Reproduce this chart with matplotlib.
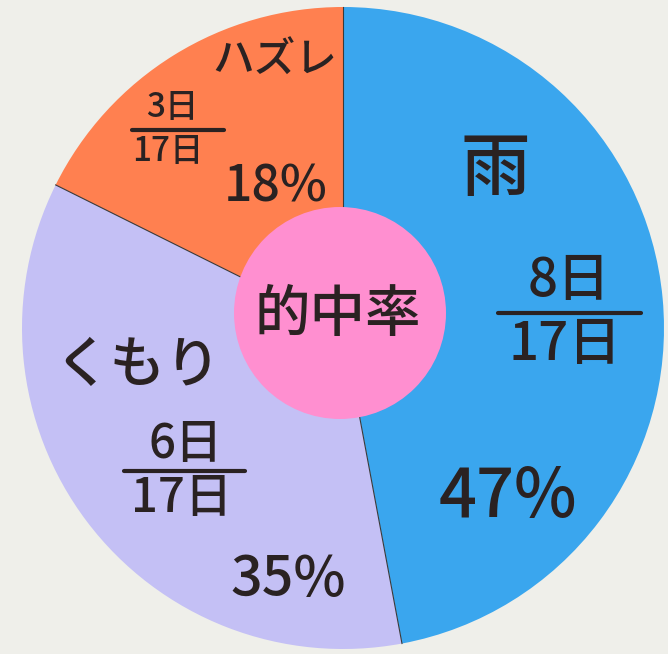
import numpy as np
import matplotlib.pyplot as plt
from matplotlib.patches import Circle

plt.rcParams['font.family'] = ['Noto Sans CJK JP', 'DejaVu Sans']

# data
labels = ['雨', 'くもり', 'ハズレ']
days = [8, 6, 3]
total_days = 17
colors = ['#3aa6ee', '#c4c0f5', '#ff8050']
center_label = '的中率'

W, H = 668, 654
fig = plt.figure(figsize=(W / 100, H / 100), dpi=100)
fig.patch.set_facecolor('#efefea')
ax = fig.add_axes([0, 0, 1, 1])
ax.set_facecolor('#efefea')

cx, cy, r = 343, H - 328, 321
wedges, _ = ax.pie(days, colors=colors, startangle=90, counterclock=False,
                   center=(cx, cy), radius=r,
                   wedgeprops=dict(edgecolor='none', linewidth=0))

# thin dark seams between the paper pieces
for w in wedges:
    a = np.deg2rad(w.theta1)
    ax.plot([cx, cx + r * np.cos(a)], [cy, cy + r * np.sin(a)],
            color='#3a3a3a', lw=0.8, zorder=2)

ax.add_patch(Circle((340, H - 313), 106, facecolor='#ff8fd0', edgecolor='none', zorder=3))

ax.set_xlim(0, W)
ax.set_ylim(0, H)
ax.set_aspect('equal')
ax.axis('off')

ink = '#2a2222'


def txt(x, y, s, size):
    ax.text(x, H - y, s, fontsize=size, color=ink, ha='center', va='center',
            fontweight='medium', zorder=5)


def frac(x, y, num, size, line_x0, line_x1, gap):
    # numerator over denominator with a bar between
    txt(x + 4, y - gap, f'{num}日', size)
    txt(x, y + gap, f'{total_days}日', size)
    ax.plot([line_x0, line_x1], [H - y, H - y], color=ink, lw=3, solid_capstyle='round', zorder=5)


pct = [round(100 * d / total_days) for d in days]

# 雨
txt(495, 170, labels[0], 50)
frac(565, 313, days[0], 38, 498, 641, 32)
txt(508, 498, f'{pct[0]}%', 48)

# くもり
txt(138, 366, labels[1], 40)
frac(182, 471, days[1], 34, 124, 245, 27)
txt(288, 580, f'{pct[1]}%', 40)

# ハズレ
txt(275, 60, labels[2], 30)
frac(168, 130, days[2], 24, 132, 224, 22)
txt(276, 188, f'{pct[2]}%', 36)

txt(338, 315, center_label, 40)

fig.savefig('out.png', dpi=100, facecolor=fig.get_facecolor())
